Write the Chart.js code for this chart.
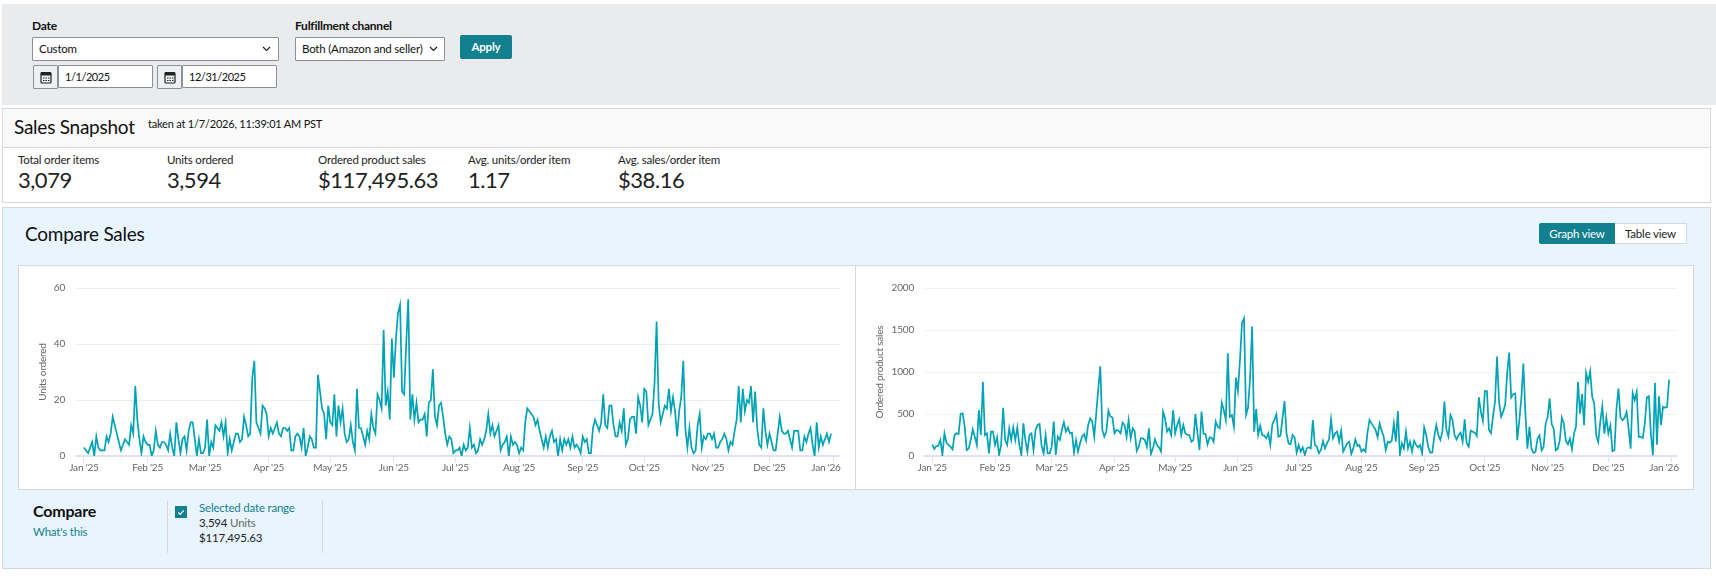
<!DOCTYPE html>
<html>
<head>
<meta charset="utf-8">
<title>Sales Snapshot</title>
<script src="https://cdn.jsdelivr.net/npm/chart.js@4"></script>
<style>
html,body{margin:0;padding:0;background:#fff;width:1716px;height:579px;overflow:hidden;}
body{position:relative;font-family:Lato,sans-serif;color:#111;letter-spacing:-0.2px;font-size:11.5px;}
.box{position:absolute;box-sizing:border-box;}
.txt{position:absolute;white-space:nowrap;line-height:16px;transform:translateY(-8px);}
.label{font-size:12px;font-weight:700;letter-spacing:-0.25px;}
.title{font-size:19px;letter-spacing:-0.25px;}
.field{position:absolute;box-sizing:border-box;background:#fff;border:1px solid #8d9096;border-radius:1px;line-height:22px;padding-left:6px;}
.date{font-size:11px;letter-spacing:-0.45px;}
.metric-label{color:#222;}
.metric-value{font-size:22px;color:#222;letter-spacing:-0.45px;line-height:28px;transform:translateY(-14px);}
.teal{color:#12808f;}
canvas{position:absolute;}
</style>
</head>
<body>

<!-- filter bar -->
<div class="box" style="left:2px;top:4px;width:1714px;height:101px;background:#e9ebed;"></div>
<div class="txt label" style="left:32px;top:26px;">Date</div>
<div class="txt label" style="left:295px;top:26px;">Fulfillment channel</div>
<div class="field" style="left:32px;top:37px;width:247px;height:24px;">Custom
  <svg style="position:absolute;left:229px;top:8px" width="9" height="6"><path d="M1 1l3.5 3.5L8 1" fill="none" stroke="#222" stroke-width="1.2"/></svg></div>
<div class="field" style="left:295px;top:37px;width:150px;height:24px;">Both (Amazon and seller)
  <svg style="position:absolute;left:133px;top:8px" width="9" height="6"><path d="M1 1l3.5 3.5L8 1" fill="none" stroke="#222" stroke-width="1.2"/></svg></div>
<div class="box" style="left:460px;top:35px;width:52px;height:24px;background:#12808f;border-radius:2px;color:#fff;font-weight:700;line-height:24px;text-align:center;">Apply</div>

<div class="field" style="left:33px;top:65px;width:25px;height:24px;background:#eef0f1;"></div>
<svg style="position:absolute;left:40px;top:70px" width="12" height="14"><rect x="1" y="2.5" width="10" height="10.5" rx="1" fill="none" stroke="#222" stroke-width="1.2"/><rect x="1" y="2.5" width="10" height="3" fill="#222"/><path d="M3 8h1.5M5.5 8h1.5M8 8h1.5M3 10.5h1.5M5.5 10.5h1.5M8 10.5h1.5" stroke="#222"/></svg>
<div class="field date" style="left:58px;top:65px;width:95px;height:23px;">1/1/2025</div>
<div class="field" style="left:157px;top:65px;width:25px;height:24px;background:#eef0f1;"></div>
<svg style="position:absolute;left:164px;top:70px" width="12" height="14"><rect x="1" y="2.5" width="10" height="10.5" rx="1" fill="none" stroke="#222" stroke-width="1.2"/><rect x="1" y="2.5" width="10" height="3" fill="#222"/><path d="M3 8h1.5M5.5 8h1.5M8 8h1.5M3 10.5h1.5M5.5 10.5h1.5M8 10.5h1.5" stroke="#222"/></svg>
<div class="field date" style="left:182px;top:65px;width:95px;height:23px;">12/31/2025</div>

<!-- sales snapshot -->
<div class="box" style="left:2px;top:108px;width:1709px;height:95px;border:1px solid #d5d9db;background:#fff;"></div>
<div class="box" style="left:3px;top:109px;width:1707px;height:39px;border-bottom:1px solid #d5d9db;background:#f9f9f9;"></div>
<div class="txt title" style="left:14px;top:127px;">Sales Snapshot</div>
<div class="txt" style="left:148px;top:124px;font-size:11px;">taken at 1/7/2026, 11:39:01 AM PST</div>

<div class="txt metric-label" style="left:18px;top:160px;">Total order items</div>
<div class="txt metric-value" style="left:18px;top:180px;">3,079</div>
<div class="txt metric-label" style="left:167px;top:160px;">Units ordered</div>
<div class="txt metric-value" style="left:167px;top:180px;">3,594</div>
<div class="txt metric-label" style="left:318px;top:160px;">Ordered product sales</div>
<div class="txt metric-value" style="left:318px;top:180px;">$117,495.63</div>
<div class="txt metric-label" style="left:468px;top:160px;">Avg. units/order item</div>
<div class="txt metric-value" style="left:468px;top:180px;">1.17</div>
<div class="txt metric-label" style="left:618px;top:160px;">Avg. sales/order item</div>
<div class="txt metric-value" style="left:618px;top:180px;">$38.16</div>

<!-- compare panel -->
<div class="box" style="left:2px;top:207px;width:1709px;height:362px;border:1px solid #d5d9db;background:#e8f5fe;"></div>
<div class="txt title" style="left:25px;top:234px;">Compare Sales</div>
<div class="box" style="left:1539px;top:223px;width:76px;height:21px;background:#12808f;border-radius:2px 0 0 2px;color:#fff;line-height:21px;text-align:center;">Graph view</div>
<div class="box" style="left:1615px;top:223px;width:72px;height:21px;background:#fff;border:1px solid #d5d9db;border-left:0;color:#222;line-height:19px;text-align:center;">Table view</div>

<div class="box" style="left:18px;top:265px;width:1676px;height:225px;background:#fff;border:1px solid #d5d9db;"></div>
<div class="box" style="left:855px;top:265px;width:1px;height:225px;background:#d5d9db;"></div>
<canvas id="unitsChart" width="836" height="223" style="left:19px;top:266px;"></canvas>
<canvas id="salesChart" width="837" height="223" style="left:856px;top:266px;"></canvas>

<div class="txt" style="left:33px;top:511px;font-size:16px;font-weight:700;">Compare</div>
<div class="txt teal" style="left:33px;top:532px;">What's this</div>
<div class="box" style="left:167px;top:501px;width:1px;height:52px;background:#d5d9db;"></div>
<div class="box" style="left:322px;top:501px;width:1px;height:52px;background:#d5d9db;"></div>
<div class="box" style="left:175px;top:506px;width:12px;height:12px;background:#12808f;"></div>
<svg style="position:absolute;left:175px;top:506px" width="12" height="12"><path d="M3.2 6.3l2 2 3.6-4" fill="none" stroke="#fff" stroke-width="1.2"/></svg>
<div class="txt teal" style="left:199px;top:508px;">Selected date range</div>
<div class="txt" style="left:199px;top:523px;color:#222;">3,594 <span style="color:#666;">Units</span></div>
<div class="txt" style="left:199px;top:538px;color:#222;">$117,495.63</div>

<script>
// ==========================================
// DATA (one value per day, 1 Jan - 31 Dec 2025)
// ==========================================

const monthLabels = ["Jan '25","Feb '25","Mar '25","Apr '25","May '25","Jun '25","Jul '25","Aug '25","Sep '25","Oct '25","Nov '25","Dec '25","Jan '26"];
const monthStarts = [0,31,59,90,120,151,181,212,243,273,304,334,365];
const unitsTicks = [0,20,40,60];
const salesTicks = [0,500,1000,1500,2000];

const unitsOrdered = [
    3,2,1,3,5,0,7,3,2,2,2,7,5,8,14,11,8,5,2,4,6,5,4,11,8,25,13,6,1,7,5,
    4,4,0,2,9,4,3,5,5,4,2,8,3,0,12,6,1,6,7,2,9,12,12,6,0,6,1,1,
    3,13,0,5,3,11,10,9,12,7,12,1,6,2,5,8,8,5,6,14,11,7,8,28,34,12,10,8,18,17,15,
    7,10,8,10,12,8,7,10,10,9,10,2,2,7,8,7,3,10,0,3,7,6,3,3,29,23,17,15,6,18,
    12,11,22,7,18,12,17,8,5,6,11,5,2,24,10,10,7,4,9,6,15,10,8,22,20,17,45,18,23,13,42,
    28,42,51,54,23,22,40,56,13,22,13,19,12,13,13,15,7,19,20,31,14,11,18,19,14,8,4,7,6,1,
    2,2,3,0,4,2,3,10,3,4,1,2,6,4,6,9,15,8,11,7,9,11,2,4,5,7,0,7,4,5,4,
    1,3,2,12,17,16,15,14,11,13,9,6,3,7,3,7,9,5,6,0,6,2,6,4,6,3,7,3,4,3,1,
    7,5,6,1,1,10,13,11,9,12,22,11,10,18,18,11,7,7,12,9,17,4,6,13,14,14,8,21,18,12,
    24,23,11,13,15,26,48,19,12,15,18,17,24,16,21,16,7,16,21,34,10,3,10,3,1,2,11,15,3,7,6,
    8,8,6,8,3,3,5,6,8,6,2,5,4,9,13,25,12,24,16,20,19,25,12,23,10,4,3,17,9,4,
    8,5,2,2,8,14,9,8,8,9,6,3,9,9,9,2,2,7,5,8,10,4,0,12,3,7,4,6,8,5,8
];

const productSales = [
    139,83,119,119,190,12,270,159,131,111,80,250,270,262,500,508,350,71,91,190,318,230,131,548,250,885,250,270,32,290,290,
    131,222,12,131,575,190,131,330,190,340,190,340,131,12,390,190,52,250,270,71,310,370,380,120,32,250,32,32,
    111,409,12,230,190,310,400,290,340,270,278,40,190,52,151,230,262,182,370,449,409,230,508,800,1067,310,230,290,540,468,460,
    270,310,302,270,397,369,230,429,210,330,290,60,111,210,210,190,111,330,24,91,198,131,103,52,528,449,290,330,250,548,
    270,369,437,250,369,270,250,250,170,190,500,270,71,528,262,262,139,222,218,170,409,349,330,635,548,429,1223,468,488,349,933,
    774,1143,1588,1640,488,575,925,1540,290,560,250,361,250,242,210,270,131,377,429,496,230,242,449,655,270,150,140,250,220,40,
    131,52,103,12,91,103,91,429,131,111,32,71,179,91,151,198,437,210,270,290,170,302,52,103,151,170,24,91,198,119,131,
    52,79,52,278,429,389,350,310,222,389,302,230,71,170,159,182,389,170,536,12,151,91,290,91,170,52,182,131,103,131,32,
    340,250,111,40,40,230,369,250,190,290,647,310,230,488,429,250,198,250,278,170,437,151,111,302,290,278,238,700,528,417,
    774,774,310,270,468,647,1183,647,468,528,607,985,1231,696,736,744,187,426,685,1102,505,87,346,87,36,48,207,247,68,107,386,
    466,685,378,326,68,87,187,458,386,175,139,207,80,267,346,883,505,736,366,991,883,1011,704,625,247,167,406,593,267,458,
    267,366,56,68,565,804,458,426,454,525,326,87,752,665,764,227,227,215,386,696,712,267,8,871,135,712,366,585,577,585,911
];


// ==========================================
// CHART
// ==========================================

const tickFont = {family:"Lato, sans-serif", size:10};
const tickColor = "#666";
const lineColor = "#00a3b4";

function makeChart(id, title, values, yTicks, opt){

    return new Chart(document.getElementById(id),{

        type:"line",

        data:{
            datasets:[{
                data:values.map((v,i)=>({x:i,y:v})),
                borderColor:lineColor,
                borderWidth:1.7,
                pointRadius:0,
                tension:0,
                fill:false
            }]
        },

        options:{
            responsive:false,
            animation:false,
            layout:{padding:{top:22,right:opt.padRight,bottom:0,left:0}},
            plugins:{legend:{display:false},tooltip:{enabled:false}},
            scales:{
                x:{
                    type:"linear",
                    min:opt.xMin,
                    max:opt.xMax,
                    afterBuildTicks:function(scale){
                        scale.ticks = monthStarts.map(v=>({value:v}));
                    },
                    afterFit:function(scale){
                        scale.height = 33;
                    },
                    ticks:{
                        autoSkip:false,
                        maxRotation:0,
                        padding:0,
                        color:tickColor,
                        font:tickFont,
                        callback:function(value){
                            const label = monthLabels[monthStarts.indexOf(value)];
                            // last label sits left of its tick in the original
                            return value===365 ? label+"      " : label;
                        }
                    },
                    grid:{drawOnChartArea:false,tickLength:6,tickColor:"#dfe3f0"},
                    border:{color:"#dfe3f0",width:2}
                },
                y:{
                    min:0,
                    max:yTicks[yTicks.length-1],
                    afterBuildTicks:function(scale){
                        scale.ticks = yTicks.map(v=>({value:v}));
                    },
                    afterFit:function(scale){
                        scale.width = opt.yWidth;
                    },
                    ticks:{
                        padding:opt.yPad,
                        color:tickColor,
                        font:tickFont,
                        callback:function(value){
                            return String(value);
                        }
                    },
                    title:{
                        display:true,
                        text:title,
                        color:tickColor,
                        font:tickFont,
                        padding:{top:18,bottom:0}
                    },
                    grid:{color:opt.gridColor,lineWidth:1,drawTicks:false},
                    border:{display:false}
                }
            }
        }
    });
}

makeChart("unitsChart","Units ordered",unitsOrdered,unitsTicks,{
    xMin:-3.4, xMax:368.2, padRight:14, yWidth:58, yPad:12, gridColor:"#ececec"
});

makeChart("salesChart","Ordered product sales",productSales,salesTicks,{
    xMin:-3.6, xMax:367.8, padRight:14, yWidth:69, yPad:11, gridColor:"#f2f2f2"
});
</script>
</body>
</html>
